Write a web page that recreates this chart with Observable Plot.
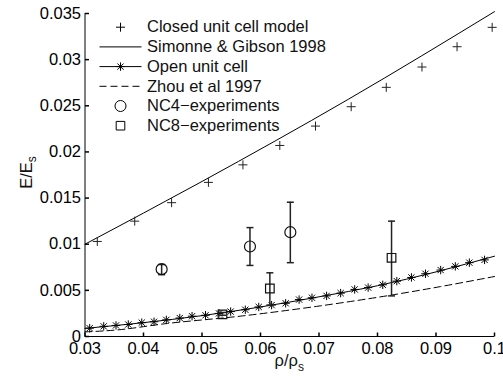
<!DOCTYPE html>
<html><head><meta charset="utf-8">
<script src="https://cdn.jsdelivr.net/npm/d3@7"></script>
<script src="https://cdn.jsdelivr.net/npm/@observablehq/plot@0.6"></script>
<style>
html,body{margin:0;padding:0;background:#fff;}
#chart{width:503px;height:380px;}
</style></head><body><div id="chart"></div>
<script>
// ---- data ----
const xDomain = [0.03, 0.1];
const yDomain = [0, 0.035];
const xTicks = [0.03, 0.04, 0.05, 0.06, 0.07, 0.08, 0.09, 0.1];
const yTicks = [0, 0.005, 0.01, 0.015, 0.02, 0.025, 0.03, 0.035];

const closedX = [0.0321, 0.0385, 0.0448, 0.0511, 0.0570, 0.0633, 0.0694, 0.0755, 0.0815, 0.0876, 0.0936, 0.0996];
const closedY = [0.0103, 0.0125, 0.0145, 0.0167, 0.0186, 0.0207, 0.0228, 0.0249, 0.0270, 0.0292, 0.0314, 0.0335];

const simoneX = [0.03, 0.05, 0.075, 0.1];
const simoneY = [0.0100, 0.0168, 0.0257, 0.0352];

const openX = [0.0308, 0.0332, 0.0353, 0.0374, 0.0397, 0.0418, 0.0439, 0.0462, 0.0483, 0.0506, 0.0529, 0.0549, 0.0574, 0.0597, 0.0619, 0.0643, 0.0666, 0.0688, 0.0713, 0.0737, 0.0761, 0.0784, 0.0809, 0.0833, 0.0858, 0.0882, 0.0908, 0.0933, 0.0957, 0.0983];
const openY = [0.0009, 0.0011, 0.0012, 0.0013, 0.0015, 0.0016, 0.0018, 0.0020, 0.0022, 0.0023, 0.0025, 0.0027, 0.0029, 0.0032, 0.0034, 0.0036, 0.0040, 0.0042, 0.0044, 0.0047, 0.0051, 0.0053, 0.0056, 0.0060, 0.0064, 0.0068, 0.0072, 0.0076, 0.0080, 0.0083];

const openCurveX = [0.03, 0.04, 0.05, 0.06, 0.07, 0.08, 0.09, 0.1];
const openCurveY = [0.00088, 0.0015, 0.00226, 0.0032, 0.0043, 0.0055, 0.0070, 0.0087];

const zhouX = [0.03, 0.0353, 0.0439, 0.0565, 0.0700, 0.0825, 0.0907, 0.1];
const zhouY = [0.0005, 0.0007, 0.0014, 0.0022, 0.0033, 0.0045, 0.0054, 0.0065];

const nc4X = [0.0431, 0.0582, 0.0651];
const nc4Y = [0.0073, 0.00975, 0.0113];
const nc4Lo = [0.0067, 0.0077, 0.0080];
const nc4Hi = [0.0078, 0.0118, 0.01455];

const nc8X = [0.0535, 0.0616, 0.0824];
const nc8Y = [0.0024, 0.0052, 0.00853];
const nc8Lo = [0.0023, 0.0034, 0.0044];
const nc8Hi = [0.0026, 0.0069, 0.0125];

const legendLabels = ["Closed unit cell model", "Simonne & Gibson 1998", "Open unit cell", "Zhou et al 1997", "NC4\u2212experiments", "NC8\u2212experiments"];
const xLabel = ["\u03c1/\u03c1", "s"];
const yLabel = ["E/E", "s"];

// ---- tables ----
const closed = closedX.map((x, i) => ({x, y: closedY[i]}));
const simone = simoneX.map((x, i) => ({x, y: simoneY[i]}));
const open = openX.map((x, i) => ({x, y: openY[i]}));
const openCurve = openCurveX.map((x, i) => ({x, y: openCurveY[i]}));
const zhou = zhouX.map((x, i) => ({x, y: zhouY[i]}));
const nc4 = nc4X.map((x, i) => ({x, y: nc4Y[i], lo: nc4Lo[i], hi: nc4Hi[i]}));
const nc8 = nc8X.map((x, i) => ({x, y: nc8Y[i], lo: nc8Lo[i], hi: nc8Hi[i]}));

// ---- custom symbols ----
const rad = s => Math.sqrt(s / Math.PI);
const plusSym = {draw(c, s) { const r = rad(s); c.moveTo(-r, 0); c.lineTo(r, 0); c.moveTo(0, -r); c.lineTo(0, r); }};
const starSym = {draw(c, s) { const r = rad(s), d = r * 0.74; c.moveTo(-r, 0); c.lineTo(r, 0); c.moveTo(0, -r); c.lineTo(0, r); c.moveTo(-d, -d); c.lineTo(d, d); c.moveTo(-d, d); c.lineTo(d, -d); }};
const squareSym = {draw(c, s) { const r = rad(s); c.rect(-r, -r, 2 * r, 2 * r); }};
const hSeg = {draw(c, s) { const r = rad(s); c.moveTo(-r, 0); c.lineTo(r, 0); }};
const tickRight = {draw(c, s) { const r = rad(s); c.moveTo(0, 0); c.lineTo(r, 0); }};
const tickUp = {draw(c, s) { const r = rad(s); c.moveTo(0, 0); c.lineTo(0, -r); }};

const FONT = "'Liberation Sans', Arial, Helvetica, sans-serif";
const FS = 16.5;

// legend
const legTop = 13.7, legStep = 19.7, legMark = 35.5, legText = 62;
const legendMarks = [];
const legendStyles = [
  [{symbol: plusSym, r: 4.5}],
  [{symbol: hSeg, r: 21}],
  [{symbol: hSeg, r: 21}, {symbol: starSym, r: 4.2}],
  [{symbol: hSeg, r: 21, strokeDasharray: "7,4"}],
  [{symbol: "circle", r: 5.5}],
  [{symbol: squareSym, r: 4.3}]
];
legendLabels.forEach((lab, i) => {
  const dy = legTop + i * legStep;
  legendStyles[i].forEach(st => {
    legendMarks.push(Plot.dot([lab], {frameAnchor: "top-left", dx: legMark, dy, symbol: st.symbol, r: st.r, stroke: "black", fill: "none", strokeWidth: 1, strokeDasharray: st.strokeDasharray}));
  });
  legendMarks.push(Plot.text([lab], {frameAnchor: "top-left", dx: legText, dy, text: d => d, textAnchor: "start", lineAnchor: "middle", fontSize: FS, fill: "#111"}));
});

const chart = Plot.plot({
  width: 503, height: 380,
  marginLeft: 84.5, marginRight: 9, marginTop: 13, marginBottom: 44,
  style: {fontFamily: FONT, fontSize: FS + "px", background: "white", color: "black"},
  x: {domain: xDomain, axis: null},
  y: {domain: yDomain, axis: null},
  marks: [
    Plot.axisX({ticks: xTicks, tickSize: 0, tickPadding: 6, tickFormat: d3.format("~g"), label: null, fontSize: FS}),
    Plot.axisY({ticks: yTicks, tickSize: 0, tickPadding: 4, tickFormat: d3.format("~g"), label: null, fontSize: FS}),
    Plot.ruleX([xDomain[0]], {stroke: "black", strokeWidth: 1}),
    Plot.ruleY([yDomain[0]], {stroke: "black", strokeWidth: 1}),
    Plot.dot(yTicks, {y: d => d, frameAnchor: "left", symbol: tickRight, r: 4, stroke: "black", fill: "none"}),
    Plot.dot(xTicks, {x: d => d, frameAnchor: "bottom", symbol: tickUp, r: 4, stroke: "black", fill: "none"}),
    // curves
    Plot.line(simone, {x: "x", y: "y", stroke: "black", strokeWidth: 1, curve: "monotone-x"}),
    Plot.line(openCurve, {x: "x", y: "y", stroke: "black", strokeWidth: 1, curve: "monotone-x"}),
    Plot.line(zhou, {x: "x", y: "y", stroke: "black", strokeWidth: 1, strokeDasharray: "7,4", curve: "monotone-x"}),
    // markers
    Plot.dot(closed, {x: "x", y: "y", symbol: plusSym, r: 4.5, stroke: "#222", fill: "none", strokeWidth: 1}),
    Plot.dot(open, {x: "x", y: "y", symbol: starSym, r: 4.2, stroke: "black", fill: "none", strokeWidth: 1}),
    // error bars
    Plot.ruleX(nc4, {x: "x", y1: "lo", y2: "hi", stroke: "#222", strokeWidth: 1.5}),
    Plot.ruleX(nc8, {x: "x", y1: "lo", y2: "hi", stroke: "#222", strokeWidth: 1.5}),
    Plot.dot(nc4, {x: "x", y: "lo", symbol: hSeg, r: 3.5, stroke: "#222", strokeWidth: 1.5, fill: "none"}),
    Plot.dot(nc4, {x: "x", y: "hi", symbol: hSeg, r: 3.5, stroke: "#222", strokeWidth: 1.5, fill: "none"}),
    Plot.dot(nc8, {x: "x", y: "lo", symbol: hSeg, r: 3.5, stroke: "#222", strokeWidth: 1.5, fill: "none"}),
    Plot.dot(nc8, {x: "x", y: "hi", symbol: hSeg, r: 3.5, stroke: "#222", strokeWidth: 1.5, fill: "none"}),
    Plot.dot(nc4, {x: "x", y: "y", symbol: "circle", r: 5.5, stroke: "#111", fill: "white", fillOpacity: 0, strokeWidth: 1.2}),
    Plot.dot(nc8, {x: "x", y: "y", symbol: squareSym, r: 4.3, stroke: "#111", fill: "none", strokeWidth: 1.2}),
    ...legendMarks
  ]
});

document.getElementById("chart").appendChild(chart);

// axis labels with subscripts
const sx = chart.scale("x"), sy = chart.scale("y");
const svg = d3.select(chart);
const xMid = (sx.range[0] + sx.range[1]) / 2;
const yMid = (sy.range[0] + sy.range[1]) / 2;
const xl = svg.append("text").attr("x", xMid).attr("y", 366).attr("text-anchor", "middle")
  .attr("font-family", FONT).attr("font-size", FS).attr("fill", "#111");
xl.append("tspan").text(xLabel[0]);
xl.append("tspan").attr("font-size", 12).attr("dy", 5).text(xLabel[1]);
const yl = svg.append("text").attr("transform", `translate(32,${yMid - 2}) rotate(-90)`).attr("text-anchor", "middle")
  .attr("font-family", FONT).attr("font-size", FS).attr("fill", "#111");
yl.append("tspan").text(yLabel[0]);
yl.append("tspan").attr("font-size", 12).attr("dy", 4).text(yLabel[1]);
</script>
</body></html>
